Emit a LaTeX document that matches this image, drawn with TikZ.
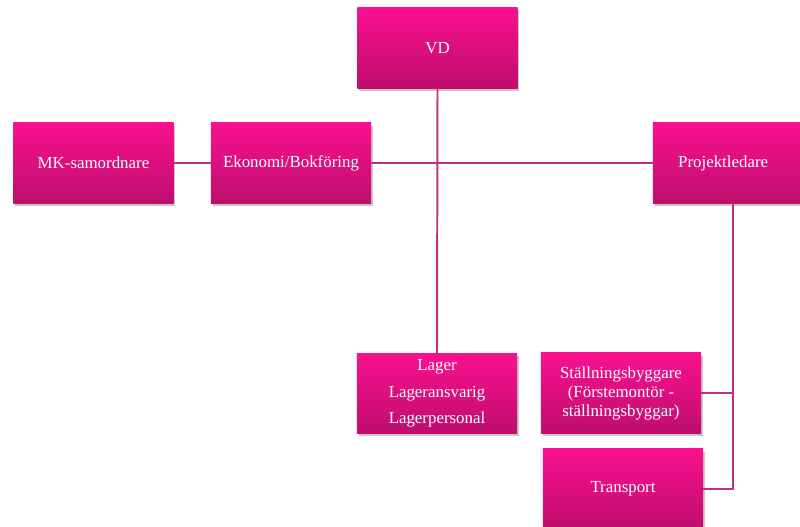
\documentclass[tikz,border=0pt]{standalone}
\usepackage{fontspec}
\setmainfont{Liberation Serif}
\usetikzlibrary{shadows}
\definecolor{pinktop}{RGB}{250,16,143}
\definecolor{pinkbot}{RGB}{190,14,110}
\definecolor{linkcol}{RGB}{192,48,128}
\tikzset{
	orgbox/.style={rectangle, minimum width=4cm, minimum height=2cm, inner sep=0pt,
		top color=pinktop, bottom color=pinkbot, text=white, align=center,
		font=\fontsize{12}{13.5}\selectfont,
		drop shadow={shadow xshift=1.2pt, shadow yshift=-2pt, fill=black, opacity=0.22}},
	link/.style={draw=linkcol, line width=1.4pt}
}

\begin{document}
\begin{tikzpicture}[x=0.025cm, y=-0.025cm]
		%%%%% START %%%%%
		
		\useasboundingbox (0, 0) rectangle (800, 526);
		\clip (0, 0) rectangle (800, 526);
		
		\node[orgbox] (vd) at (437.5, 48) {VD};
		\node[orgbox] (mk) at (93.5, 163) {MK-samordnare};
		\node[orgbox] (eko) at (291, 163) {Ekonomi/Bokföring};
		\node[orgbox] (proj) at (733, 163) {\hspace*{-14pt}Projektledare};
		
		\node[orgbox] (lager) at (437, 393.5) {Lager\\[5.5pt] Lageransvarig\\[5.5pt] Lagerpersonal};
		\node[orgbox] (stall) at (621, 393) {Ställningsbyggare\\ (Förstemontör -\\ ställningsbyggar)};
		\node[orgbox] (trans) at (623, 489) {Transport};
		
		\draw[link] (mk.east) -- (eko.west);
		\draw[link] (eko.east) -- (proj.west);
		\draw[link] (vd.south) -- (lager.north);
		
		\draw[link] (proj.south) |- (trans.east);
		\draw[link] (stall.east) -- (stall.east -| proj.south);
		
		%%%%% END %%%%%
\end{tikzpicture}
\end{document}
